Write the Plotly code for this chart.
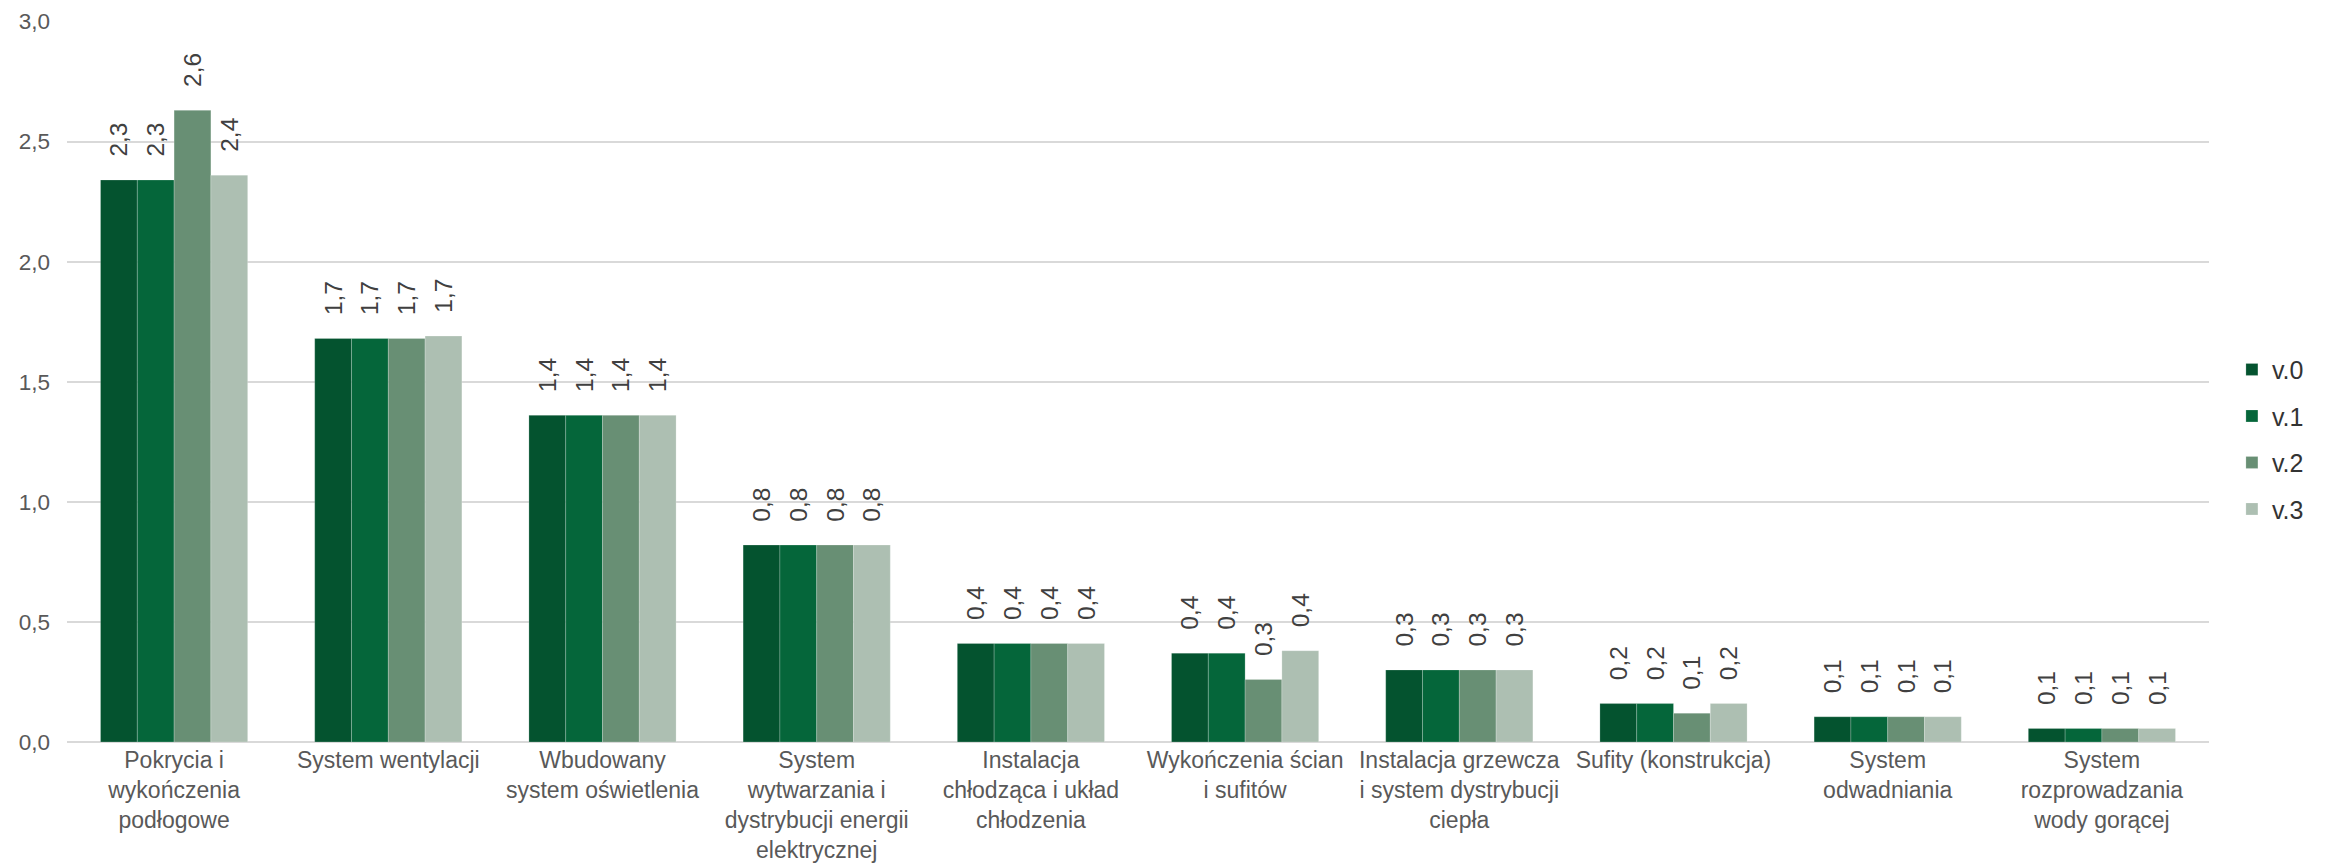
import plotly.graph_objects as go

categories = [
    "Pokrycia i<br>wykończenia<br>podłogowe",
    "System wentylacji",
    "Wbudowany<br>system oświetlenia",
    "System<br>wytwarzania i<br>dystrybucji energii<br>elektrycznej",
    "Instalacja<br>chłodząca i układ<br>chłodzenia",
    "Wykończenia ścian<br>i sufitów",
    "Instalacja grzewcza<br>i system dystrybucji<br>ciepła",
    "Sufity (konstrukcja)",
    "System<br>odwadniania",
    "System<br>rozprowadzania<br>wody gorącej",
]

v0 = [2.34, 1.68, 1.36, 0.82, 0.41, 0.37, 0.30, 0.16, 0.105, 0.056]
v1 = [2.34, 1.68, 1.36, 0.82, 0.41, 0.37, 0.30, 0.16, 0.105, 0.056]
v2 = [2.63, 1.68, 1.36, 0.82, 0.41, 0.26, 0.30, 0.12, 0.105, 0.056]
v3 = [2.36, 1.69, 1.36, 0.82, 0.41, 0.38, 0.30, 0.16, 0.105, 0.056]

series_names = ["v.0", "v.1", "v.2", "v.3"]
series_values = [v0, v1, v2, v3]
colors = ["#04532F", "#05663A", "#688F74", "#ADBFB2"]

y_ticks = [0, 0.5, 1.0, 1.5, 2.0, 2.5, 3.0]
y_tick_labels = ["0,0", "0,5", "1,0", "1,5", "2,0", "2,5", "3,0"]

FONT = "Liberation Sans, Arial, sans-serif"


def fmt(v):
    s = f"{v + 1e-9:.1f}".replace(".", ",")
    return "\u00a0\u00a0\u00a0" + s


fig = go.Figure()
for name, vals, col in zip(series_names, series_values, colors):
    fig.add_trace(go.Bar(
        x=categories,
        y=vals,
        name=name,
        legendgroup=name,
        marker=dict(color=col, line=dict(color="rgba(255,255,255,0.35)", width=0.6)),
        text=[fmt(v) for v in vals],
        textposition="outside",
        textangle=-90,
        constraintext="none",
        cliponaxis=False,
        textfont=dict(family=FONT, size=24.5, color="#404040"),
        hoverinfo="skip",
    ))

# the page body has an 8px default margin: the figure is sized to fit inside it
fig.update_layout(
    width=2317,
    height=859,
    barmode="group",
    bargap=0.313,
    bargroupgap=0,
    plot_bgcolor="white",
    paper_bgcolor="white",
    margin=dict(l=59, r=116, t=13, b=125),
    font=dict(family=FONT, size=23, color="#595959"),
    showlegend=True,
    legend=dict(
        x=1.0107, y=0.42, xanchor="left", yanchor="middle",
        font=dict(family=FONT, size=25, color="#333333"),
        itemwidth=30,
        tracegroupgap=11,
    ),
)
fig.update_xaxes(
    showgrid=False,
    showline=False,
    ticks="",
    ticklabelstandoff=2,
    tickfont=dict(family=FONT, size=23, color="#595959"),
    automargin=False,
)
fig.update_yaxes(
    range=[0, 3.002],
    tickvals=y_ticks,
    ticktext=y_tick_labels,
    showgrid=True,
    gridcolor="#D9D9D9",
    gridwidth=2,
    zeroline=True,
    zerolinecolor="#D9D9D9",
    zerolinewidth=2,
    showline=False,
    ticks="",
    ticklabelstandoff=16,
    tickfont=dict(family=FONT, size=22.5, color="#595959"),
    automargin=False,
)

fig.write_html("out.html")
